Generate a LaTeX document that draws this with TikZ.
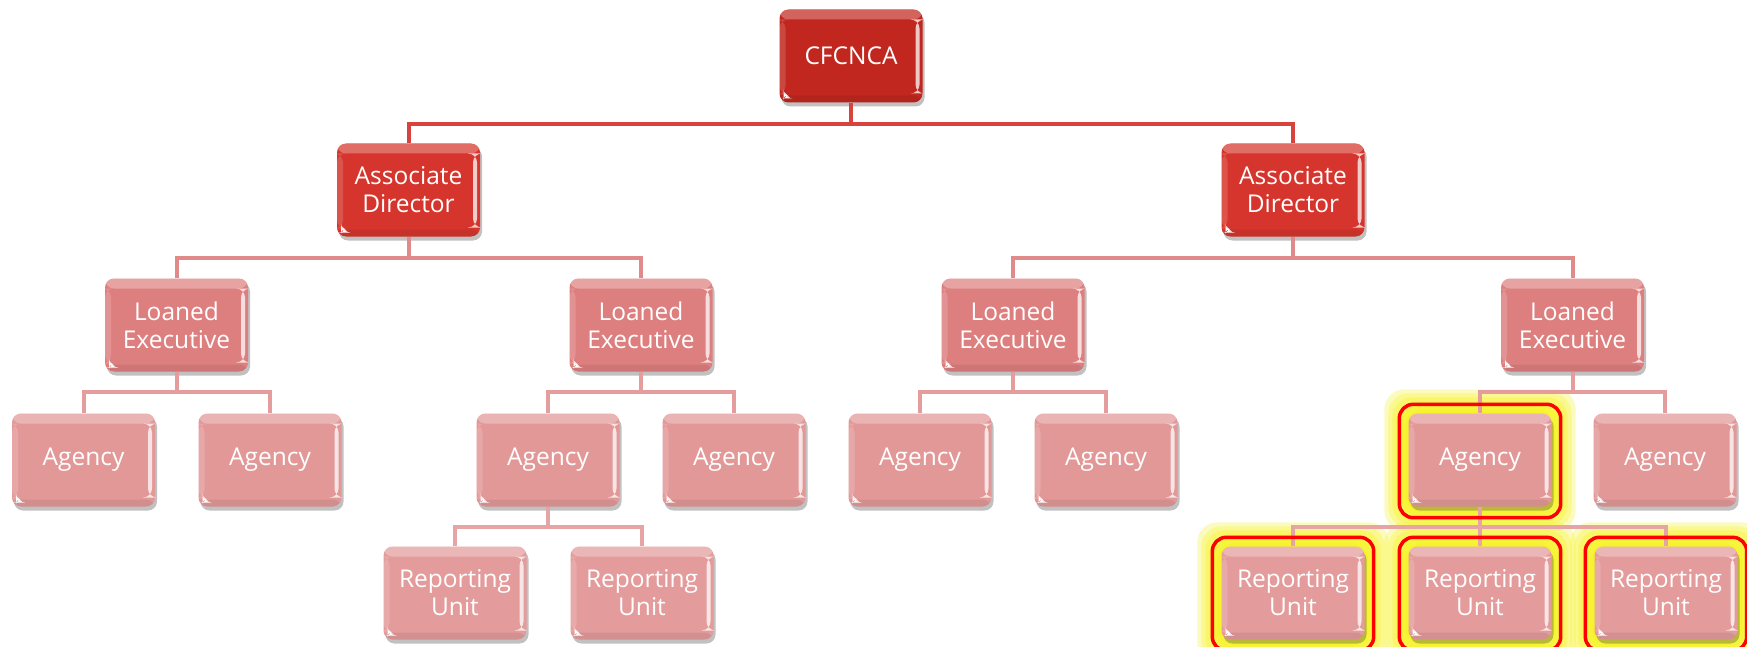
\documentclass[tikz,border=0pt]{standalone}
\usepackage{fontspec}
\setmainfont{Open Sans}
\usetikzlibrary{shadows,calc}
\pgfdeclarelayer{background}
\pgfsetlayers{background,main}
\definecolor{cfc}{HTML}{C1271F}
\definecolor{adc}{HTML}{D6352D}
\definecolor{lec}{HTML}{DE7F7F}
\definecolor{agc}{HTML}{E39898}
\definecolor{ruc}{HTML}{E49B9B}
\definecolor{lnA}{HTML}{D8443D}
\definecolor{lnB}{HTML}{E08A8A}
\definecolor{lnC}{HTML}{E49C9C}
\definecolor{lnD}{HTML}{E7A4A4}
\definecolor{glowc}{HTML}{F4F000}
\tikzset{
  orgbox/.style={rounded corners=9pt, minimum width=143pt, minimum height=93pt,
    inner sep=0pt, text=white, align=center,
    font=\fontsize{24.5}{28}\selectfont,
    drop shadow={shadow xshift=2pt, shadow yshift=-4pt, opacity=0.35, fill=black!70},
    path picture={
      \fill[white,opacity=0.28] (path picture bounding box.north west) rectangle ([yshift=-10pt]path picture bounding box.north east);
      \fill[white,opacity=0.15] ([yshift=-10pt]path picture bounding box.north west) rectangle ([xshift=6pt,yshift=8pt]path picture bounding box.south west);
      \fill[white,opacity=0.75] ([xshift=-7pt,yshift=-10pt]path picture bounding box.north east) rectangle ([xshift=-3pt,yshift=9pt]path picture bounding box.south east);
      \fill[black,opacity=0.07] ([yshift=7pt]path picture bounding box.south west) rectangle (path picture bounding box.south east);
      \fill[white] ([xshift=4pt,yshift=4pt]path picture bounding box.south west) -- ++(7pt,0) -- ++(-7pt,7pt) -- cycle;
    }},
  cfbox/.style={orgbox, fill=cfc},
  adbox/.style={orgbox, fill=adc},
  lebox/.style={orgbox, fill=lec},
  agbox/.style={orgbox, fill=agc},
  rubox/.style={orgbox, fill=ruc},
  linkA/.style={draw=lnA, line width=4pt},
  linkB/.style={draw=lnB, line width=4pt},
  linkC/.style={draw=lnC, line width=4pt},
  linkD/.style={draw=lnD, line width=4pt},
  hlline/.style={draw=red, line width=3.5pt, rounded corners=14pt},
  glow/.style={fill=glowc, opacity=0.25, rounded corners=20pt},
}
\newcommand\glowbox[1]{%
  \begin{pgfonlayer}{background}
    \path[glow] ($(#1.north west)+(-24,-24)$) rectangle ($(#1.south east)+(24,24)$);
    \path[glow] ($(#1.north west)+(-20,-20)$) rectangle ($(#1.south east)+(20,21)$);
    \path[glow] ($(#1.north west)+(-16,-16)$) rectangle ($(#1.south east)+(16,18)$);
    \path[glow] ($(#1.north west)+(-12,-12)$) rectangle ($(#1.south east)+(12,14)$);
    \path[glow] ($(#1.north west)+(-8,-8)$) rectangle ($(#1.south east)+(8,10)$);
    \path[glow] ($(#1.north west)+(-4,-4)$) rectangle ($(#1.south east)+(4,6)$);
  \end{pgfonlayer}}
\newcommand\redbox[1]{%
  \path[hlline] ($(#1.north west)+(-9,-9)$) rectangle ($(#1.south east)+(9,11)$);}
\begin{document}
\begin{tikzpicture}[x=1pt,y=-1pt]
\useasboundingbox (0,0) rectangle (1747,647);
% nodes
\node[cfbox] (cf) at (851,56) {CFCNCA};
\node[adbox] (ad1) at (408.5,190) {Associate\\Director};
\node[adbox] (ad2) at (1293,190) {Associate\\Director};
\node[lebox] (le1) at (176.5,325) {Loaned\\Executive};
\node[lebox] (le2) at (641,325) {Loaned\\Executive};
\node[lebox] (le3) at (1013,325) {Loaned\\Executive};
\node[lebox] (le4) at (1572.5,325) {Loaned\\Executive};
\node[agbox] (ag1) at (83.5,460) {Agency};
\node[agbox] (ag2) at (270,460) {Agency};
\node[agbox] (ag3) at (548,460) {Agency};
\node[agbox] (ag4) at (734,460) {Agency};
\node[agbox] (ag5) at (920,460) {Agency};
\node[agbox] (ag6) at (1106,460) {Agency};
\node[agbox] (ag7) at (1480,460) {Agency};
\node[agbox] (ag8) at (1665,460) {Agency};
\node[rubox] (ru1) at (455,593) {Reporting\\Unit};
\node[rubox] (ru2) at (642,593) {Reporting\\Unit};
\node[rubox] (ru3) at (1293,593) {Reporting\\Unit};
\node[rubox] (ru4) at (1480,593) {Reporting\\Unit};
\node[rubox] (ru5) at (1666,593) {Reporting\\Unit};
% glow
\glowbox{ag7}
\glowbox{ru3}
\glowbox{ru4}
\glowbox{ru5}
% connectors
\draw[linkA] (cf.south) -- ++(0,21) -| (ad1.north);
\draw[linkA] (cf.south) -- ++(0,21) -| (ad2.north);
\draw[linkB] (ad1.south) -- ++(0,21) -| (le1.north);
\draw[linkB] (ad1.south) -- ++(0,21) -| (le2.north);
\draw[linkB] (ad2.south) -- ++(0,21) -| (le3.north);
\draw[linkB] (ad2.south) -- ++(0,21) -| (le4.north);
\draw[linkC] (le1.south) -- ++(0,20) -| (ag1.north);
\draw[linkC] (le1.south) -- ++(0,20) -| (ag2.north);
\draw[linkC] (le2.south) -- ++(0,20) -| (ag3.north);
\draw[linkC] (le2.south) -- ++(0,20) -| (ag4.north);
\draw[linkC] (le3.south) -- ++(0,20) -| (ag5.north);
\draw[linkC] (le3.south) -- ++(0,20) -| (ag6.north);
\draw[linkC] (le4.south) -- ++(0,20) -| (ag7.north);
\draw[linkC] (le4.south) -- ++(0,20) -| (ag8.north);
\draw[linkD] (ag3.south) -- ++(0,20) -| (ru1.north);
\draw[linkD] (ag3.south) -- ++(0,20) -| (ru2.north);
\draw[linkD] (ag7.south) -- ++(0,20) -| (ru3.north);
\draw[linkD] (ag7.south) -- ++(0,20) -| (ru4.north);
\draw[linkD] (ag7.south) -- ++(0,20) -| (ru5.north);
% red highlight outlines
\redbox{ag7}
\redbox{ru3}
\redbox{ru4}
\redbox{ru5}
\end{tikzpicture}
\end{document}
